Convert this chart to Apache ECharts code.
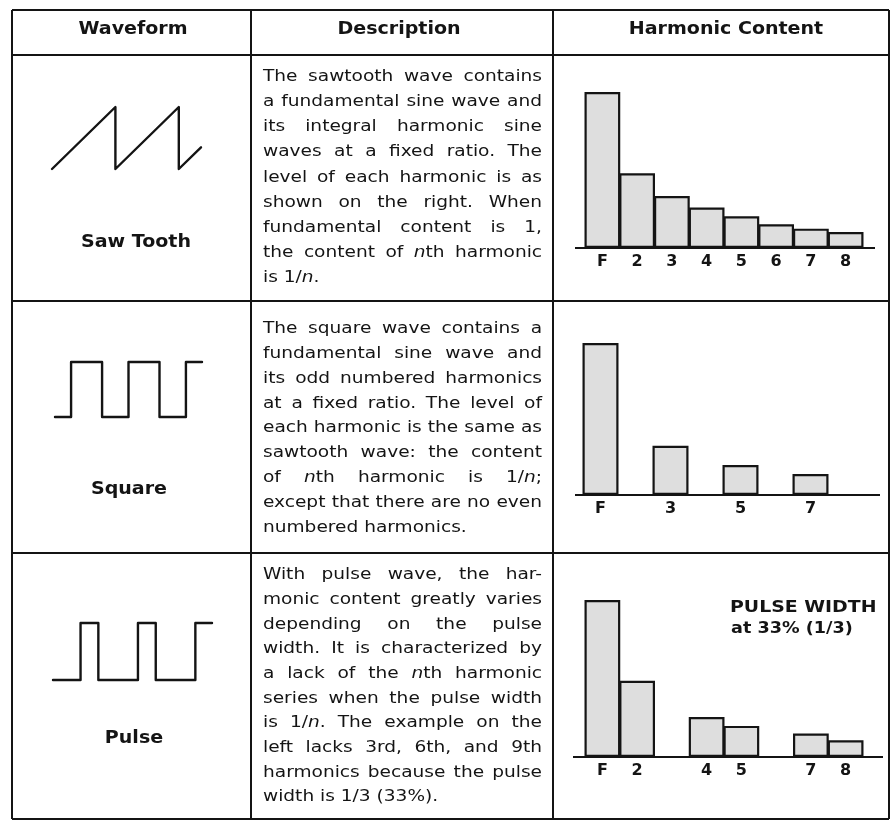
<!DOCTYPE html>
<html><head><meta charset="utf-8">
<script src="https://cdn.jsdelivr.net/npm/echarts@6/dist/echarts.min.js"></script>
<style>html,body{margin:0;padding:0;background:#fff}#c{width:896px;height:821px}</style>
</head><body><div id="c"></div>
<script>
// ---------------- DATA ----------------
const headers = ['Waveform', 'Description', 'Harmonic Content'];
const waveNames = ['Saw Tooth', 'Square', 'Pulse'];
const harmonics = ['F', '2', '3', '4', '5', '6', '7', '8'];
const sawLevels    = [1, 0.479, 0.333, 0.260, 0.204, 0.152, 0.124, 0.103];
const squareLevels = [1, null, 0.324, null, 0.197, null, 0.138, null];
const pulseLevels  = [1, 0.485, null, 0.255, 0.198, null, 0.149, 0.106];
const pulseNote = ['PULSE WIDTH', 'at 33% (1/3)'];
// waveform outlines (x in cycles, y normalised 0..1)
const sawShape = [[0, 0], [1, 1], [1, 0], [2, 1], [2, 0], [2.35, 0.35]];
const squareShape = [[0, 0], [0.28, 0], [0.28, 1], [0.82, 1], [0.82, 0], [1.28, 0], [1.28, 1], [1.82, 1], [1.82, 0], [2.28, 0], [2.28, 1], [2.56, 1]];
const pulseShape = [[0, 0], [0.48, 0], [0.48, 1], [0.79, 1], [0.79, 0], [1.48, 0], [1.48, 1], [1.79, 1], [1.79, 0], [2.48, 0], [2.48, 1], [2.77, 1]];
const sawText = [
  'The sawtooth wave contains',
  'a fundamental sine wave and',
  'its integral harmonic sine',
  'waves at a fixed ratio. The',
  'level of each harmonic is as',
  'shown on the right. When',
  'fundamental content is 1,',
  'the content of {i|n}th harmonic',
  'is 1/{i|n}.'
];
const squareText = [
  'The square wave contains a',
  'fundamental sine wave and',
  'its odd numbered harmonics',
  'at a fixed ratio. The level of',
  'each harmonic is the same as',
  'sawtooth wave: the content',
  'of {i|n}th harmonic is 1/{i|n};',
  'except that there are no even',
  'numbered harmonics.'
];
const pulseText = [
  'With pulse wave, the har-',
  'monic content greatly varies',
  'depending on the pulse',
  'width. It is characterized by',
  'a lack of the {i|n}th harmonic',
  'series when the pulse width',
  'is 1/{i|n}. The example on the',
  'left lacks 3rd, 6th, and 9th',
  'harmonics because the pulse',
  'width is 1/3 (33%).'
];

// ---------------- LAYOUT / STYLE ----------------
const FONT = '"DejaVu Sans", "Liberation Sans", sans-serif';
const INK = '#141414';
const T = { x0: 12, c1: 251, c2: 553, x1: 889, yTop: 10, yHead: 55, r1: 301, r2: 553, yBot: 819 };

const ctx = document.createElement('canvas').getContext('2d');
function segs(word) {
  const out = []; const re = /\{i\|([^}]*)\}/g; let last = 0, m;
  while ((m = re.exec(word))) {
    if (m.index > last) out.push({ t: word.slice(last, m.index), i: false });
    out.push({ t: m[1], i: true }); last = re.lastIndex;
  }
  if (last < word.length) out.push({ t: word.slice(last), i: false });
  return out;
}
function measure(word, size, weight) {
  let w = 0;
  for (const s of segs(word)) {
    ctx.font = (s.i ? 'italic' : 'normal') + ' ' + weight + ' ' + size + 'px ' + FONT;
    w += ctx.measureText(s.t).width;
  }
  return w;
}
function textEl(text, x, y, size, weight, align, sx) {
  return {
    type: 'text', x: x, y: y, scaleX: sx, silent: true, z: 10,
    style: {
      text: text, fill: INK, fontSize: size, fontFamily: FONT, fontWeight: weight,
      textAlign: align, textVerticalAlign: 'middle', align: align, verticalAlign: 'middle',
      rich: { i: { fontStyle: 'italic', fontSize: size, fontFamily: FONT, fontWeight: weight, fill: INK } }
    }
  };
}
function paragraph(lines, x0, x1, y0, step, size, sx) {
  const els = [];
  lines.forEach(function (line, li) {
    const words = line.split(' ');
    const ws = words.map(function (w) { return measure(w, size, 'normal') * sx; });
    const total = ws.reduce(function (a, b) { return a + b; }, 0);
    const last = li === lines.length - 1;
    const gap = (!last && words.length > 1) ? (x1 - x0 - total) / (words.length - 1) : measure(' ', size, 'normal') * sx;
    let x = x0; const y = y0 + li * step;
    words.forEach(function (w, i) { els.push(textEl(w, x, y, size, 'normal', 'left', sx)); x += ws[i] + gap; });
  });
  return els;
}
function line(x1, y1, x2, y2, w) {
  return { type: 'line', silent: true, z: 5, shape: { x1: x1, y1: y1, x2: x2, y2: y2 }, style: { stroke: INK, lineWidth: w || 2 } };
}

const graphics = [];
// table rules
[T.yTop, T.yHead, T.r1, T.r2, T.yBot].forEach(function (y) { graphics.push(line(T.x0, y, T.x1, y, 2)); });
[T.x0, T.c1, T.c2, T.x1].forEach(function (x) { graphics.push(line(x, T.yTop, x, T.yBot, 2)); });
// headers
const headX = [133, 399, 726];
headers.forEach(function (h, i) { graphics.push(textEl(h, headX[i], 30, 17, 'bold', 'center', 1.12)); });
// waveform names
const nameX = [136, 129, 134], nameY = [243, 490, 739];
waveNames.forEach(function (n, i) { graphics.push(textEl(n, nameX[i], nameY[i], 17, 'bold', 'center', 1.12)); });
// descriptions
paragraph(sawText, 263, 542, 77, 25.1, 16, 1.16).forEach(function (e) { graphics.push(e); });
paragraph(squareText, 263, 542, 329, 24.8, 16, 1.16).forEach(function (e) { graphics.push(e); });
paragraph(pulseText, 263, 542, 575, 24.7, 16, 1.16).forEach(function (e) { graphics.push(e); });
// pulse annotation
graphics.push(textEl(pulseNote[0], 730, 608, 16, 'bold', 'left', 1.18));
graphics.push(textEl(pulseNote[1], 731, 629, 16, 'bold', 'left', 1.1));

// chart grids
const barGrids = [
  { left: 585, width: 278, top: 92, height: 156, base: [575, 875] },
  { left: 583, width: 280, top: 343, height: 152, base: [575, 880] },
  { left: 585, width: 278, top: 600, height: 157, base: [573, 883] }
];
const waveGrids = [
  { left: 52, width: 149, top: 107, height: 62 },
  { left: 55, width: 147, top: 362, height: 55 },
  { left: 53, width: 159, top: 623, height: 57 }
];
barGrids.forEach(function (g) { graphics.push(line(g.base[0], g.top + g.height, g.base[1], g.top + g.height, 2.2)); });

const levelSets = [sawLevels, squareLevels, pulseLevels];
const shapes = [sawShape, squareShape, pulseShape];

const grid = [], xAxis = [], yAxis = [], series = [];
barGrids.forEach(function (g, i) {
  grid.push({ left: g.left, top: g.top, width: g.width, height: g.height, containLabel: false });
  const lv = levelSets[i];
  xAxis.push({
    type: 'category', gridIndex: i, data: harmonics, boundaryGap: true,
    axisLine: { show: false }, axisTick: { show: false }, splitLine: { show: false },
    axisLabel: {
      interval: 0, margin: 6, color: INK, fontFamily: FONT, fontSize: 16, fontWeight: 'bold',
      formatter: function (v, idx) { return lv[idx] == null ? '' : v; }
    }
  });
  yAxis.push({ type: 'value', gridIndex: i, min: 0, max: 1, show: false, splitLine: { show: false } });
  series.push({
    type: 'bar', xAxisIndex: i, yAxisIndex: i, data: lv, barWidth: g.width / harmonics.length + 1, silent: true,
    itemStyle: { color: '#dedede', borderColor: INK, borderWidth: 2.2 }
  });
});
waveGrids.forEach(function (g, k) {
  const i = k + 3;
  const sh = shapes[k];
  grid.push({ left: g.left, top: g.top, width: g.width, height: g.height, containLabel: false });
  xAxis.push({ type: 'value', gridIndex: i, min: 0, max: sh[sh.length - 1][0], show: false, splitLine: { show: false } });
  yAxis.push({ type: 'value', gridIndex: i, min: 0, max: 1, show: false, splitLine: { show: false } });
  series.push({
    type: 'line', xAxisIndex: i, yAxisIndex: i, data: sh, showSymbol: false, symbol: 'none', clip: false, silent: true,
    lineStyle: { color: INK, width: 2.4, join: 'round', cap: 'round' }
  });
});

const chart = echarts.init(document.getElementById('c'), null, { renderer: 'canvas' });
chart.setOption({
  backgroundColor: '#ffffff',
  animation: false,
  grid: grid, xAxis: xAxis, yAxis: yAxis, series: series,
  graphic: { elements: graphics }
});
</script>
</body></html>
